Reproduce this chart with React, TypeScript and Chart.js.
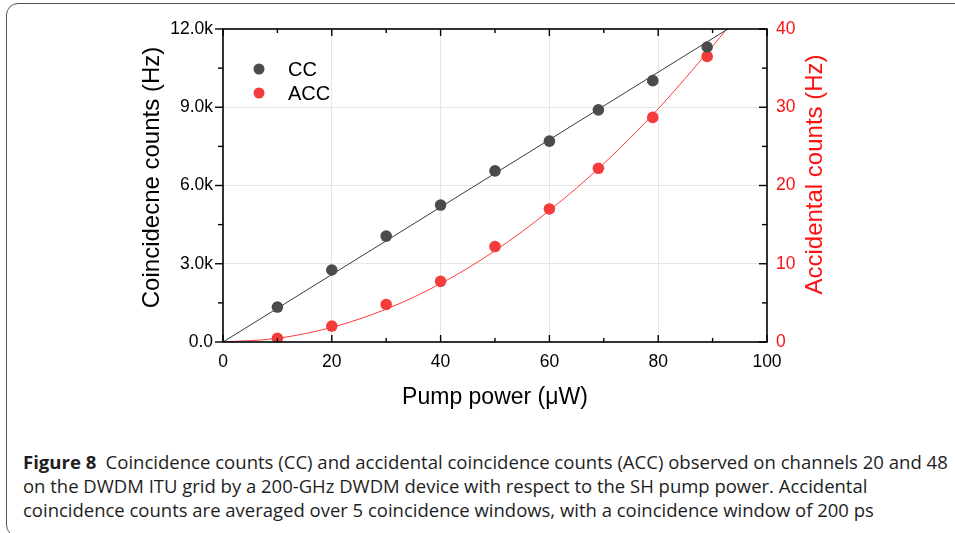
import React, { useEffect, useLayoutEffect, useRef } from 'react';
import { Chart, registerables } from 'chart.js';

Chart.register(...registerables);

// ---- data ----
const pumpPower = [10, 20, 30, 40, 50, 60, 69, 79, 89];
const ccCounts = [1340, 2760, 4060, 5250, 6560, 7700, 8900, 10020, 11310];
const accCounts = [0.47, 2.04, 4.8, 7.75, 12.2, 17.0, 22.2, 28.7, 36.5];

const ccFitX = [0, 92.8];
const ccFitY = [0, 12000];
const accFitX = [0, 10, 20, 30, 40, 50, 60, 70, 80, 90, 92.6];
const accFitY = [0, 0.47, 1.87, 4.2, 7.46, 11.66, 16.8, 22.8, 29.8, 37.8, 40];

const xTicks = [0, 20, 40, 60, 80, 100];
const ccTicks = [0, 3000, 6000, 9000, 12000];
const accTicks = [0, 10, 20, 30, 40];

const seriesNames = ['CC', 'ACC'];
const xTitle = 'Pump power (\u03BCW)';
const yTitle = 'Coincidecne counts (Hz)';
const y1Title = 'Accidental counts (Hz)';

const captionLines = [
  'Coincidence counts (CC) and accidental coincidence counts (ACC) observed on channels 20 and 48',
  'on the DWDM ITU grid by a 200-GHz DWDM device with respect to the SH pump power. Accidental',
  'coincidence counts are averaged over 5 coincidence windows, with a coincidence window of 200 ps',
];

const CC_COLOR = '#4b4b4b';
const ACC_COLOR = '#f43c3c';
const RED = '#ff1010';
const FONT = "'Liberation Sans', Arial, sans-serif";
const W = 955;
const H = 420;

function mids(arr: number[]) {
  const out: number[] = [];
  for (let i = 0; i < arr.length - 1; i++) out.push((arr[i] + arr[i + 1]) / 2);
  return out;
}

const decorPlugin = {
  id: 'decor',
  afterDraw(chart: any) {
    const { ctx, chartArea: a, scales } = chart;
    const sx = scales.x, sy = scales.y, sy1 = scales.y1;
    ctx.save();
    ctx.strokeStyle = '#000';
    ctx.lineWidth = 1.6;
    ctx.strokeRect(a.left, a.top, a.right - a.left, a.bottom - a.top);
    ctx.lineWidth = 1.4;
    const line = (x1: number, y1: number, x2: number, y2: number) => {
      ctx.beginPath();
      ctx.moveTo(x1, y1);
      ctx.lineTo(x2, y2);
      ctx.stroke();
    };
    // x ticks (inward, bottom & top)
    xTicks.forEach((v) => {
      const px = sx.getPixelForValue(v);
      line(px, a.bottom, px, a.bottom - 7);
      line(px, a.top, px, a.top + 7);
    });
    mids(xTicks).forEach((v) => {
      const px = sx.getPixelForValue(v);
      line(px, a.bottom, px, a.bottom - 4);
      line(px, a.top, px, a.top + 4);
    });
    // left ticks (outward)
    ccTicks.forEach((v) => {
      const py = sy.getPixelForValue(v);
      line(a.left, py, a.left - 8, py);
    });
    mids(ccTicks).forEach((v) => {
      const py = sy.getPixelForValue(v);
      line(a.left, py, a.left - 5, py);
    });
    // right ticks (inward)
    accTicks.forEach((v) => {
      const py = sy1.getPixelForValue(v);
      line(a.right, py, a.right - 8, py);
    });
    mids(accTicks).forEach((v) => {
      const py = sy1.getPixelForValue(v);
      line(a.right, py, a.right - 5, py);
    });

    // axis titles
    ctx.textAlign = 'center';
    ctx.textBaseline = 'middle';
    ctx.fillStyle = '#000';
    ctx.font = `24px ${FONT}`;
    ctx.save();
    ctx.translate(a.left - 71, (a.top + a.bottom) / 2 - 8);
    ctx.rotate(-Math.PI / 2);
    ctx.fillText(yTitle, 0, 0);
    ctx.restore();

    ctx.save();
    ctx.fillStyle = RED;
    ctx.translate(a.right + 48, (a.top + a.bottom) / 2 - 11);
    ctx.rotate(-Math.PI / 2);
    ctx.fillText(y1Title, 0, 0);
    ctx.restore();

    ctx.font = `23px ${FONT}`;
    ctx.fillText(xTitle, (a.left + a.right) / 2, a.bottom + 56);

    // legend
    const colors = [CC_COLOR, ACC_COLOR];
    ctx.font = `20px ${FONT}`;
    ctx.textAlign = 'left';
    seriesNames.forEach((name, i) => {
      const cy = a.top + 40 + i * 24;
      ctx.fillStyle = colors[i];
      ctx.beginPath();
      ctx.arc(a.left + 36, cy, 5.5, 0, Math.PI * 2);
      ctx.fill();
      ctx.fillStyle = '#000';
      ctx.fillText(name, a.left + 65, cy + 1);
    });
    ctx.restore();
  },
};

function ChartCanvas() {
  const ref = useRef<HTMLCanvasElement | null>(null);
  useEffect(() => {
    if (!ref.current) return;
    const gridColor = (ctx: any) => {
      const v = ctx.tick && ctx.tick.value;
      const s = ctx.scale;
      if (v === s.min || v === s.max) return 'rgba(0,0,0,0)';
      return '#e6e6e6';
    };
    const chart = new Chart(ref.current, {
      type: 'scatter',
      data: {
        datasets: [
          {
            label: 'CC fit',
            data: ccFitX.map((x, i) => ({ x, y: ccFitY[i] })),
            showLine: true,
            borderColor: '#3a3a3a',
            borderWidth: 1,
            pointRadius: 0,
            yAxisID: 'y',
            order: 3,
          },
          {
            label: 'ACC fit',
            data: accFitX.map((x, i) => ({ x, y: accFitY[i] })),
            showLine: true,
            borderColor: '#ff3a3a',
            borderWidth: 1,
            pointRadius: 0,
            cubicInterpolationMode: 'monotone',
            yAxisID: 'y1',
            order: 4,
          },
          {
            label: seriesNames[0],
            data: pumpPower.map((x, i) => ({ x, y: ccCounts[i] })),
            backgroundColor: CC_COLOR,
            borderWidth: 0,
            pointRadius: 5.8,
            yAxisID: 'y',
            order: 1,
          },
          {
            label: seriesNames[1],
            data: pumpPower.map((x, i) => ({ x, y: accCounts[i] })),
            backgroundColor: ACC_COLOR,
            borderWidth: 0,
            pointRadius: 5.8,
            yAxisID: 'y1',
            order: 2,
          },
        ],
      },
      options: {
        responsive: false,
        animation: false,
        devicePixelRatio: 1,
        layout: { padding: { top: 29, left: 0, right: 0, bottom: 0 } },
        plugins: { legend: { display: false }, tooltip: { enabled: false } },
        scales: {
          x: {
            type: 'linear',
            min: 0,
            max: 100,
            afterBuildTicks: (s: any) => {
              s.ticks = xTicks.map((value) => ({ value }));
            },
            afterFit: (s: any) => {
              s.height = H - 342;
            },
            ticks: {
              font: { family: FONT, size: 17.5 },
              color: '#000',
              padding: 10,
              maxRotation: 0,
              callback: (v: any) => String(v),
            },
            grid: { color: gridColor, lineWidth: 1, drawTicks: false },
            border: { display: false },
          },
          y: {
            type: 'linear',
            position: 'left',
            min: 0,
            max: 12000,
            afterBuildTicks: (s: any) => {
              s.ticks = ccTicks.map((value) => ({ value }));
            },
            afterFit: (s: any) => {
              s.width = 223;
            },
            ticks: {
              font: { family: FONT, size: 17.5 },
              color: '#000',
              padding: 10,
              callback: (v: any) => (v === 0 ? '0.0' : (v / 1000).toFixed(1) + 'k'),
            },
            grid: { color: gridColor, lineWidth: 1, drawTicks: false },
            border: { display: false },
          },
          y1: {
            type: 'linear',
            position: 'right',
            min: 0,
            max: 40,
            afterBuildTicks: (s: any) => {
              s.ticks = accTicks.map((value) => ({ value }));
            },
            afterFit: (s: any) => {
              s.width = W - 767;
            },
            ticks: {
              font: { family: FONT, size: 17.5 },
              color: RED,
              padding: 9,
              callback: (v: any) => String(v),
            },
            grid: { display: false, drawTicks: false },
            border: { display: false },
          },
        },
      } as any,
      plugins: [decorPlugin],
    });
    return () => chart.destroy();
  }, []);
  return (
    <canvas
      ref={ref}
      width={W}
      height={H}
      style={{ position: 'absolute', left: 0, top: 0, width: W, height: H }}
    />
  );
}

function Caption() {
  const refs = useRef<(HTMLSpanElement | null)[]>([]);
  const targets = [925, 844, 851];
  useLayoutEffect(() => {
    const fit = () => {
      refs.current.forEach((el, i) => {
        if (!el) return;
        el.style.transform = 'none';
        const w = el.offsetWidth;
        if (w > 0) el.style.transform = `scaleX(${targets[i] / w})`;
      });
    };
    fit();
    if ((document as any).fonts && (document as any).fonts.ready) {
      (document as any).fonts.ready.then(fit);
    }
  }, []);
  const base: React.CSSProperties = {
    position: 'absolute',
    left: 23,
    whiteSpace: 'nowrap',
    fontFamily: "'Open Sans', 'Noto Sans', sans-serif",
    fontSize: 18.5,
    lineHeight: '24px',
    color: '#1e1e1e',
    transformOrigin: '0 50%',
  };
  return (
    <>
      {captionLines.map((t, i) => (
        <span
          key={i}
          ref={(el) => {
            refs.current[i] = el;
          }}
          style={{ ...base, top: 450 + i * 24 }}
        >
          {i === 0 ? (
            <>
              <b style={{ fontWeight: 700 }}>Figure 8</b>
              {'\u2002'}
              {t}
            </>
          ) : (
            t
          )}
        </span>
      ))}
    </>
  );
}

export default function App() {
  return (
    <div
      style={{
        position: 'fixed',
        left: 0,
        top: 0,
        width: W,
        height: 533,
        overflow: 'hidden',
        background: '#fff',
      }}
    >
      <div
        style={{
          position: 'absolute',
          left: 6,
          top: 3,
          width: 1000,
          height: 534,
          border: '1.6px solid #555',
          borderRadius: 12,
          boxSizing: 'border-box',
        }}
      />
      <ChartCanvas />
      <Caption />
    </div>
  );
}
